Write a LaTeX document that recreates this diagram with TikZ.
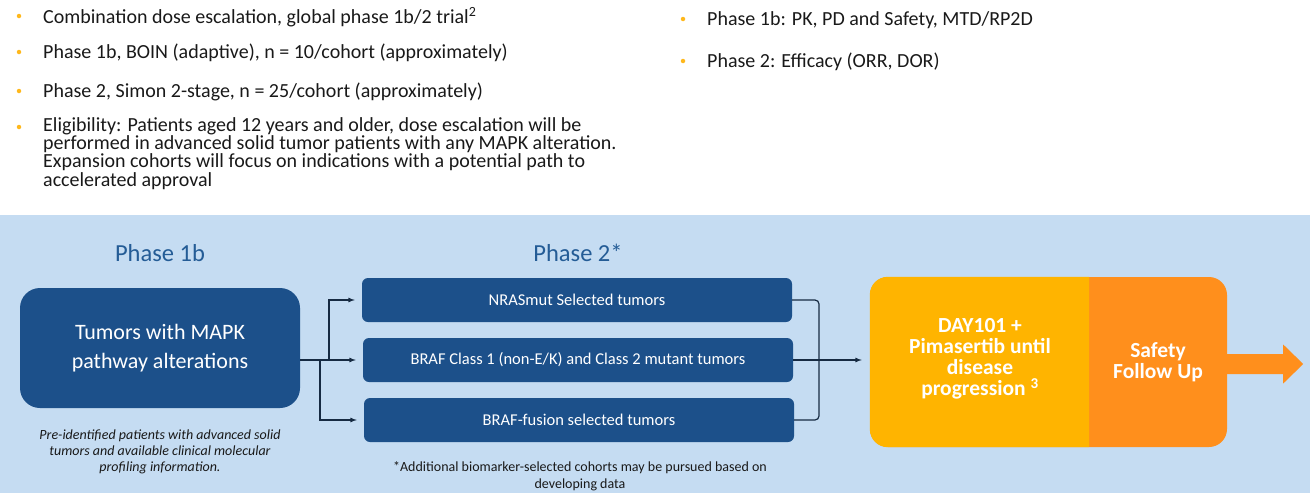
\documentclass[tikz,border=0pt]{standalone}
\usepackage{fontspec}
\setmainfont{Carlito}
\usetikzlibrary{positioning}
\definecolor{bandblue}{RGB}{197,220,242}
\definecolor{boxblue}{RGB}{28,80,138}
\definecolor{labelblue}{RGB}{36,92,150}
\definecolor{dayyellow}{RGB}{255,180,0}
\definecolor{safeorange}{RGB}{255,143,28}
\definecolor{bulletorange}{RGB}{255,184,28}
\definecolor{linedark}{RGB}{22,42,66}
\definecolor{textdark}{RGB}{25,25,25}
\newcommand{\fs}[2]{\fontsize{#1}{#2}\selectfont}
\begin{document}
\begin{tikzpicture}[x=1pt, y=-1pt, >=latex,
  bullet/.style={circle, fill=bulletorange, inner sep=0pt, minimum size=4.5pt},
  bullettext/.style={anchor=west, inner sep=0pt, align=left, text=textdark, font=\fs{20}{17}},
  phaselabel/.style={text=labelblue, font=\fs{24.5}{28}},
  cohort/.style={fill=boxblue, rounded corners=6pt, minimum width=430pt, minimum height=44pt, text=white, font=\fs{16.5}{19}},
  conn/.style={->, draw=linedark, line width=1.2pt},
  note/.style={align=center, text=textdark, font=\fs{14}{16.5}}]
\useasboundingbox (0,0) rectangle (1310,493);
% bullet list
\foreach \yy in {16,52,91,127} \node[bullet] at (19,\yy) {};
\foreach \yy in {19,61} \node[bullet] at (683,\yy) {};
\node[bullettext] (l1) at (43,17) {Combination dose escalation, global phase 1b/2 trial\textsuperscript{2}};
\node[bullettext] (l2) at (43,53) {Phase 1b, BOIN (adaptive), n = 10/cohort (approximately)};
\node[bullettext] (l3) at (43,92) {Phase 2, Simon 2-stage, n = 25/cohort (approximately)};
\node[bullettext] (l4) at (43,153.5) {Eligibility: Patients aged 12 years and older, dose escalation will be\\performed in advanced solid tumor patients with any MAPK alteration.\\Expansion cohorts will focus on indications with a potential path to\\accelerated approval};
\node[bullettext] (r1) at (707,20) {Phase 1b: PK, PD and Safety, MTD/RP2D};
\node[bullettext] (r2) at (707,62) {Phase 2: Efficacy (ORR, DOR)};
% light blue band
\fill[bandblue] (0,215) rectangle (1310,493);
% phase 1b
\node[phaselabel] (ph1) at (160,253) {Phase 1b};
\node[fill=boxblue, rounded corners=20pt, minimum width=280pt, minimum height=120pt,
  text=white, align=center, font=\fs{22}{29}] (p1) at (160,348) {Tumors with MAPK\\pathway alterations};
\node[note, font=\itshape\fs{14}{16}] (n1) at (160,452) {Pre-identified patients with advanced solid\\tumors and available clinical molecular\\profiling information.};
% phase 2 cohorts
\node[phaselabel] (ph2) at (578,253) {Phase 2*};
\node[cohort] (c1) at (577,300) {NRASmut Selected tumors};
\node[cohort] (c2) at (578,360) {BRAF Class 1 (non-E/K) and Class 2 mutant tumors};
\node[cohort] (c3) at (579,420) {BRAF-fusion selected tumors};
\node[note, font=\fs{14}{17}] (n2) at (580,476) {*Additional biomarker-selected cohorts may be pursued based on\\developing data};
% connectors in
\coordinate (ja) at (329,360);
\coordinate (jb) at (320,360);
\draw[conn, shorten >=7pt] (p1.east |- c2) -- (c2.west);
\draw[conn, shorten >=7pt] (ja) |- (c1.west);
\draw[conn, shorten >=7pt] (jb) |- (c3.west);
% connectors out
\coordinate (jc) at (819,360);
\draw[draw=linedark, line width=1.2pt, rounded corners=4pt] (c1.east) -| (jc) |- (c3.east);
% treatment box
\node[fill=safeorange, rounded corners=18pt, minimum width=357pt, minimum height=170pt] (trial) at (1048.5,362) {};
\begin{scope}
  \clip (860,270) rectangle (1089,455);
  \fill[dayyellow, rounded corners=18pt] (trial.north west) rectangle (trial.south east);
\end{scope}
\draw[conn, shorten >=8pt] (c2.east) -- (c2.east -| trial.west);
\node[text=white, align=center, font=\bfseries\fs{21.5}{21}] (dose) at (980,359) {DAY101 +\\Pimasertib until\\disease\\progression \textsuperscript{3}};
\node[text=white, align=center, font=\bfseries\fs{21.5}{21}] (safe) at (1158,362) {Safety\\Follow Up};
% big arrow
\fill[safeorange] ([xshift=-5pt]trial.east) ++(0,-8) -- ++(61,0) -- ++(0,-9.5) -- ++(20,19.5)
  -- ++(-20,19.5) -- ++(0,-9.5) -- ++(-61,0) -- cycle;
\end{tikzpicture}
\end{document}
